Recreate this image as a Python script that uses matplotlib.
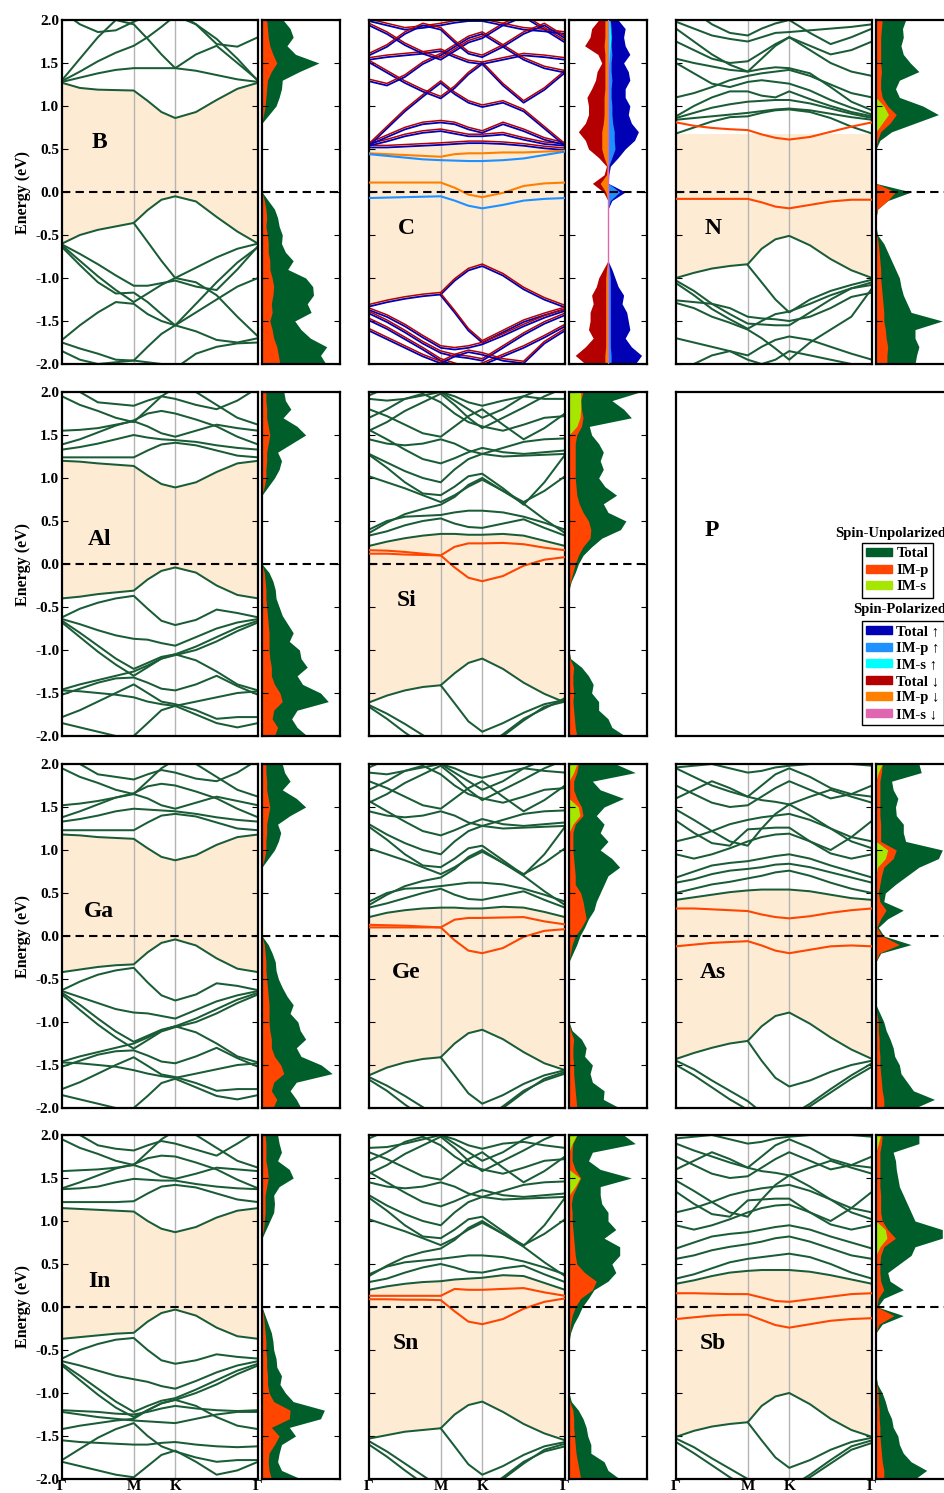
import numpy as np
import matplotlib
matplotlib.use("Agg")
import matplotlib.pyplot as plt
from matplotlib.patches import Patch

plt.rcParams['font.family'] = ['Liberation Serif', 'DejaVu Serif']
plt.rcParams['font.weight'] = 'bold'
plt.rcParams['axes.labelweight'] = 'bold'
plt.rcParams['axes.unicode_minus'] = False

nan = np.nan

# ---- k path (Γ - M - K - Γ) ------------------------------------------
k_path = [0.0, 0.144, 0.289, 0.433, 0.577, 0.689, 0.800, 0.911, 1.078, 1.244, 1.411, 1.577]
k_ticks = [0.0, 0.577, 0.911, 1.577]
k_labels = ['Γ', 'M', 'K', 'Γ']
e_dos = np.linspace(2.0, -2.0, 41)   # DOS energies, top -> bottom

# ---- band data (eV) ---------------------------------------------------
B_vb1 = [-0.60, -0.50, -0.44, -0.40, -0.36, -0.21, -0.09, -0.05, -0.11, -0.29, -0.46, -0.60]
B_cb1 = [1.27, 1.21, 1.19, 1.185, 1.18, 1.06, 0.93, 0.86, 0.93, 1.07, 1.20, 1.27]
B_more = [
    [nan, nan, nan, nan, -0.36, -0.58, -0.80, -1.00, -0.88, -0.76, -0.66, -0.60],
    [-0.61, -0.72, -0.84, -0.97, -1.09, -1.09, -1.06, -1.03, -1.10, -1.14, -0.90, -0.63],
    [-0.62, -0.80, -0.98, -1.14, -1.28, -1.18, -1.08, -1.00, -1.05, -1.20, -1.45, -1.68],
    [-0.64, -0.85, -1.05, -1.18, -1.17, -1.28, -1.42, -1.55, -1.30, -1.05, -0.82, -0.64],
    [-1.72, -1.55, -1.40, -1.28, -1.30, -1.42, -1.50, -1.55, -1.62, -1.72, -1.75, -1.70],
    [-1.75, -1.82, -1.88, -1.95, -1.96, -1.80, -1.65, -1.55, -1.40, -1.25, -1.10, -1.00],
    [-1.85, -1.95, -2.00, -1.98, -1.96, -1.98, -2.00, -2.05, -1.88, -1.80, -1.76, -1.75],
    [1.28, 1.33, 1.38, 1.42, 1.44, 1.44, 1.44, 1.44, 1.41, 1.36, 1.31, 1.28],
    [1.29, 1.40, 1.52, 1.62, 1.70, 1.80, 1.92, 2.05, 1.95, 1.78, 1.55, 1.29],
    [1.30, 1.55, 1.80, 2.00, 1.95, 1.78, 1.60, 1.44, 1.60, 1.70, 1.50, 1.30],
    [2.10, 1.95, 1.86, 1.88, 1.98, 2.05, 2.10, 2.10, 1.95, 1.72, 1.69, 1.80],
]

Al_vb1 = [-0.40, -0.38, -0.35, -0.33, -0.31, -0.18, -0.08, -0.04, -0.10, -0.25, -0.36, -0.40]
Al_cb1 = [1.20, 1.19, 1.17, 1.155, 1.14, 1.03, 0.93, 0.89, 0.95, 1.07, 1.17, 1.20]
Al_more = [
    [-0.62, -0.52, -0.45, -0.40, -0.37, -0.52, -0.66, -0.71, -0.65, -0.53, -0.57, -0.62],
    [-0.64, -0.70, -0.77, -0.83, -0.87, -0.88, -0.92, -0.95, -0.85, -0.75, -0.68, -0.64],
    [-0.66, -0.80, -0.95, -1.10, -1.22, -1.15, -1.08, -1.05, -0.96, -0.85, -0.74, -0.66],
    [-0.68, -0.85, -1.02, -1.17, -1.30, -1.20, -1.10, -1.06, -1.00, -0.90, -0.78, -0.68],
    [-1.46, -1.40, -1.35, -1.30, -1.25, -1.18, -1.10, -1.05, -1.12, -1.25, -1.40, -1.47],
    [-1.47, -1.48, -1.50, -1.52, -1.55, -1.60, -1.63, -1.65, -1.60, -1.55, -1.50, -1.48],
    [-1.52, -1.45, -1.38, -1.33, -1.32, -1.38, -1.45, -1.47, -1.40, -1.30, -1.42, -1.52],
    [-1.78, -1.70, -1.60, -1.50, -1.40, -1.50, -1.60, -1.63, -1.70, -1.80, -1.78, -1.78],
    [-1.85, -1.90, -1.95, -2.00, -2.00, -1.85, -1.70, -1.65, -1.75, -1.85, -1.90, -1.85],
    [1.24, 1.24, 1.24, 1.24, 1.24, 1.32, 1.39, 1.41, 1.38, 1.32, 1.26, 1.24],
    [1.33, 1.36, 1.40, 1.45, 1.50, 1.47, 1.45, 1.44, 1.42, 1.38, 1.35, 1.33],
    [1.39, 1.45, 1.53, 1.61, 1.67, 1.75, 1.78, 1.75, 1.68, 1.60, 1.48, 1.39],
    [1.55, 1.56, 1.58, 1.62, 1.66, 1.60, 1.52, 1.48, 1.55, 1.62, 1.58, 1.55],
    [2.10, 2.00, 1.88, 1.86, 1.84, 1.90, 1.95, 1.92, 1.85, 1.80, 1.90, 2.05],
    [1.95, 1.85, 1.78, 1.70, 1.65, 1.80, 1.95, 2.05, 2.00, 1.85, 1.70, 1.62],
]

Ga_vb1 = [-0.42, -0.39, -0.36, -0.34, -0.33, -0.19, -0.08, -0.04, -0.11, -0.26, -0.38, -0.42]
Ga_cb1 = [1.18, 1.17, 1.15, 1.14, 1.13, 1.02, 0.92, 0.88, 0.94, 1.06, 1.15, 1.18]
Ga_more = [
    [-0.63, -0.53, -0.45, -0.40, -0.37, -0.54, -0.69, -0.75, -0.68, -0.55, -0.58, -0.63],
    [-0.64, -0.71, -0.78, -0.85, -0.89, -0.90, -0.93, -0.96, -0.86, -0.76, -0.69, -0.64],
    [-0.66, -0.80, -0.96, -1.11, -1.23, -1.16, -1.09, -1.05, -0.96, -0.85, -0.74, -0.66],
    [-0.68, -0.86, -1.03, -1.18, -1.31, -1.21, -1.11, -1.06, -1.00, -0.90, -0.78, -0.68],
    [-1.46, -1.40, -1.35, -1.30, -1.25, -1.18, -1.10, -1.05, -1.12, -1.25, -1.40, -1.47],
    [-1.47, -1.48, -1.50, -1.52, -1.56, -1.60, -1.63, -1.65, -1.60, -1.55, -1.50, -1.48],
    [-1.52, -1.45, -1.38, -1.34, -1.33, -1.39, -1.46, -1.48, -1.40, -1.30, -1.42, -1.52],
    [-1.78, -1.70, -1.60, -1.50, -1.41, -1.51, -1.61, -1.64, -1.71, -1.80, -1.78, -1.78],
    [-1.85, -1.90, -1.95, -2.00, -2.00, -1.86, -1.71, -1.66, -1.76, -1.86, -1.90, -1.85],
    [1.23, 1.23, 1.23, 1.23, 1.23, 1.32, 1.40, 1.42, 1.39, 1.32, 1.25, 1.23],
    [1.33, 1.36, 1.40, 1.45, 1.48, 1.47, 1.46, 1.45, 1.42, 1.38, 1.35, 1.33],
    [1.38, 1.45, 1.53, 1.61, 1.66, 1.74, 1.77, 1.75, 1.68, 1.60, 1.48, 1.38],
    [1.52, 1.54, 1.57, 1.61, 1.65, 1.60, 1.52, 1.48, 1.55, 1.62, 1.57, 1.52],
    [2.10, 2.00, 1.88, 1.85, 1.82, 1.88, 1.93, 1.90, 1.83, 1.80, 1.90, 2.05],
    [1.95, 1.85, 1.78, 1.70, 1.65, 1.80, 1.95, 2.05, 2.00, 1.85, 1.70, 1.62],
]

In_vb1 = [-0.37, -0.35, -0.33, -0.31, -0.30, -0.17, -0.07, -0.03, -0.10, -0.24, -0.34, -0.37]
In_cb1 = [1.15, 1.14, 1.13, 1.12, 1.11, 1.00, 0.91, 0.87, 0.93, 1.04, 1.12, 1.15]
In_more = [
    [-0.60, -0.50, -0.43, -0.38, -0.36, -0.50, -0.62, -0.66, -0.62, -0.55, -0.58, -0.60],
    [-0.63, -0.68, -0.74, -0.80, -0.84, -0.87, -0.92, -0.95, -0.86, -0.76, -0.68, -0.63],
    [-0.66, -0.80, -0.95, -1.10, -1.22, -1.15, -1.09, -1.06, -0.96, -0.85, -0.74, -0.66],
    [-0.68, -0.85, -1.02, -1.17, -1.28, -1.20, -1.12, -1.08, -1.00, -0.90, -0.78, -0.68],
    [-1.20, -1.21, -1.22, -1.24, -1.25, -1.22, -1.18, -1.15, -1.18, -1.20, -1.21, -1.20],
    [-1.22, -1.25, -1.28, -1.30, -1.32, -1.33, -1.34, -1.35, -1.30, -1.25, -1.22, -1.22],
    [-1.42, -1.38, -1.35, -1.32, -1.30, -1.20, -1.12, -1.08, -1.15, -1.28, -1.38, -1.42],
    [-1.55, -1.57, -1.58, -1.59, -1.60, -1.60, -1.58, -1.57, -1.60, -1.62, -1.63, -1.62],
    [-1.78, -1.65, -1.52, -1.42, -1.35, -1.50, -1.62, -1.68, -1.75, -1.80, -1.78, -1.78],
    [-1.80, -1.85, -1.90, -1.95, -1.98, -1.85, -1.72, -1.67, -1.80, -1.95, -1.90, -1.80],
    [1.22, 1.22, 1.22, 1.22, 1.23, 1.32, 1.40, 1.42, 1.39, 1.32, 1.25, 1.22],
    [1.37, 1.38, 1.40, 1.45, 1.49, 1.48, 1.47, 1.47, 1.43, 1.40, 1.38, 1.37],
    [1.38, 1.45, 1.53, 1.61, 1.66, 1.73, 1.76, 1.75, 1.68, 1.60, 1.48, 1.38],
    [1.58, 1.59, 1.60, 1.62, 1.65, 1.60, 1.52, 1.49, 1.55, 1.62, 1.60, 1.58],
    [2.10, 2.00, 1.88, 1.84, 1.82, 1.88, 1.93, 1.90, 1.83, 1.76, 1.90, 2.05],
    [1.95, 1.85, 1.78, 1.70, 1.65, 1.80, 1.95, 2.05, 2.00, 1.85, 1.70, 1.62],
]

C_vb1 = [-1.32, -1.27, -1.23, -1.20, -1.18, -1.02, -0.90, -0.85, -0.96, -1.12, -1.24, -1.33]
C_cb1 = [0.53, 0.53, 0.54, 0.55, 0.56, 0.57, 0.58, 0.58, 0.57, 0.55, 0.52, 0.50]
C_more = [
    [nan, nan, nan, nan, -1.19, -1.39, -1.60, -1.74, -1.62, -1.50, -1.42, -1.35],
    [-1.36, -1.44, -1.55, -1.68, -1.80, -1.82, -1.80, -1.76, -1.66, -1.55, -1.45, -1.37],
    [-1.40, -1.50, -1.62, -1.75, -1.86, -1.90, -1.92, -1.95, -1.80, -1.65, -1.52, -1.42],
    [-1.48, -1.58, -1.70, -1.82, -1.95, -2.00, -2.05, -2.00, -1.90, -1.80, -1.68, -1.55],
    [-1.60, -1.70, -1.80, -1.90, -1.98, -1.90, -1.85, -1.88, -1.95, -1.98, -1.75, -1.60],
    [0.55, 0.60, 0.66, 0.70, 0.72, 0.69, 0.66, 0.66, 0.68, 0.62, 0.57, 0.55],
    [0.56, 0.65, 0.74, 0.80, 0.82, 0.80, 0.74, 0.70, 0.80, 0.72, 0.62, 0.56],
    [0.55, 0.75, 0.95, 1.12, 1.28, 1.15, 1.05, 1.00, 1.05, 0.95, 0.75, 0.55],
    [1.52, 1.40, 1.28, 1.18, 1.10, 1.22, 1.38, 1.50, 1.25, 1.05, 1.20, 1.40],
    [1.55, 1.58, 1.60, 1.62, 1.65, 1.58, 1.52, 1.50, 1.55, 1.60, 1.58, 1.55],
    [1.30, 1.25, 1.35, 1.50, 1.60, 1.70, 1.80, 1.85, 1.70, 1.55, 1.45, 1.40],
    [1.95, 1.85, 1.72, 1.62, 1.55, 1.65, 1.75, 1.80, 1.95, 2.05, 1.90, 1.75],
    [2.00, 1.95, 1.90, 1.92, 1.95, 1.98, 2.00, 2.00, 1.95, 1.90, 1.88, 1.85],
    [1.60, 1.70, 1.85, 1.95, 1.90, 1.75, 1.62, 1.58, 1.70, 1.85, 1.95, 1.80],
]
C_imp_dn = [
    [0.45, 0.44, 0.43, 0.42, 0.41, 0.44, 0.45, 0.45, 0.46, 0.46, 0.47, 0.48],
    [0.11, 0.11, 0.11, 0.11, 0.11, 0.05, -0.03, -0.06, -0.01, 0.07, 0.10, 0.11],
]
C_imp_up = [
    [0.44, 0.42, 0.40, 0.38, 0.37, 0.365, 0.36, 0.36, 0.37, 0.39, 0.43, 0.47],
    [-0.07, -0.065, -0.06, -0.055, -0.05, -0.10, -0.16, -0.19, -0.15, -0.10, -0.08, -0.07],
]

Si_vb1 = [-1.61, -1.53, -1.47, -1.43, -1.41, -1.27, -1.15, -1.10, -1.22, -1.38, -1.51, -1.61]
Si_cb1 = [0.21, 0.26, 0.30, 0.33, 0.35, 0.35, 0.34, 0.34, 0.35, 0.33, 0.27, 0.21]
Si_imp = [
    [0.16, 0.155, 0.14, 0.12, 0.10, 0.20, 0.24, 0.24, 0.245, 0.23, 0.19, 0.16],
    [0.12, 0.12, 0.11, 0.105, 0.10, -0.04, -0.16, -0.20, -0.14, -0.02, 0.05, 0.08],
]
Si_more = [
    [nan, nan, nan, nan, -1.41, -1.62, -1.83, -1.95, -1.85, -1.73, -1.63, -1.58],
    [-1.64, -1.74, -1.86, -1.99, -2.12, -2.20, -2.20, -2.20, -2.00, -1.82, -1.66, -1.60],
    [-1.66, -1.80, -1.96, -2.10, -2.20, -2.20, -2.20, -2.15, -1.98, -1.80, -1.68, -1.56],
    [0.33, 0.38, 0.45, 0.50, 0.53, 0.47, 0.43, 0.42, 0.47, 0.52, 0.42, 0.33],
    [0.40, 0.50, 0.55, 0.56, 0.57, 0.60, 0.62, 0.62, 0.60, 0.55, 0.48, 0.40],
    [0.36, 0.48, 0.58, 0.64, 0.69, 0.78, 0.92, 1.00, 0.85, 0.70, 0.52, 0.36],
    [1.02, 0.95, 0.88, 0.80, 0.72, 0.80, 0.90, 0.98, 0.85, 0.72, 0.85, 1.02],
    [1.27, 1.12, 0.95, 0.82, 0.80, 0.90, 1.02, 1.05, 0.88, 0.69, 0.95, 1.27],
    [1.28, 1.18, 1.08, 1.00, 0.95, 1.10, 1.22, 1.28, 1.25, 1.26, 1.27, 1.28],
    [1.56, 1.45, 1.33, 1.22, 1.17, 1.23, 1.30, 1.35, 1.30, 1.28, 1.30, 1.32],
    [1.45, 1.40, 1.38, 1.40, 1.45, 1.40, 1.32, 1.28, 1.35, 1.42, 1.45, 1.46],
    [1.55, 1.65, 1.78, 1.88, 1.98, 1.85, 1.70, 1.58, 1.70, 1.82, 1.95, 2.05],
    [1.80, 1.72, 1.62, 1.52, 1.48, 1.60, 1.72, 1.80, 1.62, 1.45, 1.58, 1.75],
    [1.70, 1.80, 1.92, 1.98, 1.88, 1.75, 1.65, 1.60, 1.55, 1.62, 1.70, 1.72],
    [1.92, 1.90, 1.92, 1.96, 2.00, 1.95, 1.88, 1.84, 1.90, 1.95, 1.92, 1.92],
    [1.96, 2.05, 2.10, 2.10, 2.00, 1.90, 1.80, 1.70, 1.80, 1.95, 2.05, 2.10],
]

Ge_vb1 = [-1.62, -1.53, -1.47, -1.43, -1.41, -1.25, -1.13, -1.09, -1.20, -1.35, -1.48, -1.56]
Ge_cb1 = [0.22, 0.27, 0.30, 0.32, 0.33, 0.33, 0.32, 0.32, 0.34, 0.33, 0.28, 0.22]
Ge_imp = [
    [0.13, 0.125, 0.12, 0.11, 0.10, 0.19, 0.21, 0.21, 0.215, 0.22, 0.17, 0.135],
    [0.10, 0.10, 0.10, 0.10, 0.10, -0.05, -0.17, -0.20, -0.14, -0.01, 0.06, 0.08],
]
Ge_more = [
    [nan, nan, nan, nan, -1.41, -1.62, -1.83, -1.95, -1.85, -1.72, -1.62, -1.56],
    [-1.64, -1.74, -1.86, -1.99, -2.12, -2.20, -2.20, -2.20, -2.00, -1.82, -1.66, -1.58],
    [-1.67, -1.80, -1.96, -2.10, -2.20, -2.20, -2.20, -2.15, -1.98, -1.80, -1.68, -1.60],
    [0.33, 0.38, 0.44, 0.50, 0.55, 0.48, 0.43, 0.42, 0.47, 0.52, 0.42, 0.33],
    [0.40, 0.50, 0.55, 0.56, 0.58, 0.60, 0.62, 0.62, 0.60, 0.55, 0.48, 0.40],
    [0.36, 0.48, 0.58, 0.64, 0.68, 0.78, 0.92, 1.00, 0.85, 0.70, 0.52, 0.36],
    [1.02, 0.95, 0.88, 0.80, 0.72, 0.80, 0.90, 0.98, 0.85, 0.72, 0.85, 1.02],
    [1.27, 1.12, 0.95, 0.82, 0.80, 0.90, 1.02, 1.05, 0.88, 0.71, 0.95, 1.27],
    [1.30, 1.18, 1.08, 1.00, 0.95, 1.10, 1.22, 1.28, 1.25, 1.26, 1.27, 1.28],
    [1.57, 1.45, 1.33, 1.22, 1.17, 1.23, 1.30, 1.36, 1.30, 1.28, 1.30, 1.32],
    [1.45, 1.40, 1.38, 1.40, 1.45, 1.40, 1.32, 1.28, 1.35, 1.42, 1.45, 1.46],
    [1.55, 1.65, 1.78, 1.88, 1.98, 1.85, 1.70, 1.58, 1.70, 1.82, 1.95, 2.05],
    [1.80, 1.72, 1.62, 1.52, 1.48, 1.60, 1.72, 1.80, 1.62, 1.45, 1.58, 1.75],
    [1.70, 1.80, 1.92, 1.98, 1.88, 1.75, 1.65, 1.60, 1.55, 1.62, 1.70, 1.72],
    [1.90, 1.88, 1.92, 1.96, 2.00, 1.95, 1.88, 1.84, 1.90, 1.95, 1.92, 1.90],
    [1.96, 2.05, 2.10, 2.10, 2.00, 1.90, 1.80, 1.70, 1.80, 1.95, 2.05, 2.10],
]

Sn_vb1 = [-1.53, -1.49, -1.45, -1.43, -1.41, -1.25, -1.14, -1.10, -1.22, -1.36, -1.47, -1.55]
Sn_cb1 = [0.20, 0.24, 0.27, 0.29, 0.30, 0.32, 0.33, 0.34, 0.37, 0.36, 0.28, 0.20]
Sn_imp = [
    [0.13, 0.13, 0.13, 0.13, 0.13, 0.21, 0.20, 0.20, 0.21, 0.22, 0.17, 0.13],
    [0.09, 0.09, 0.085, 0.085, 0.08, -0.05, -0.17, -0.20, -0.14, -0.02, 0.06, 0.10],
]
Sn_more = [
    [nan, nan, nan, nan, -1.41, -1.62, -1.83, -1.95, -1.85, -1.72, -1.62, -1.57],
    [-1.56, -1.68, -1.82, -1.96, -2.10, -2.20, -2.20, -2.20, -2.00, -1.82, -1.66, -1.59],
    [-1.60, -1.74, -1.90, -2.05, -2.20, -2.20, -2.20, -2.15, -1.98, -1.80, -1.68, -1.62],
    [0.29, 0.33, 0.40, 0.46, 0.50, 0.46, 0.41, 0.40, 0.45, 0.48, 0.38, 0.29],
    [0.38, 0.47, 0.52, 0.54, 0.56, 0.58, 0.60, 0.60, 0.58, 0.53, 0.46, 0.38],
    [0.36, 0.48, 0.58, 0.64, 0.68, 0.78, 0.92, 1.00, 0.85, 0.70, 0.52, 0.36],
    [1.02, 0.95, 0.88, 0.80, 0.72, 0.80, 0.90, 0.98, 0.85, 0.72, 0.85, 1.02],
    [1.27, 1.12, 0.95, 0.82, 0.80, 0.90, 1.02, 1.05, 0.88, 0.71, 0.95, 1.27],
    [1.30, 1.18, 1.08, 1.00, 0.95, 1.10, 1.22, 1.28, 1.25, 1.26, 1.27, 1.28],
    [1.57, 1.45, 1.33, 1.22, 1.17, 1.23, 1.30, 1.36, 1.30, 1.28, 1.30, 1.32],
    [1.45, 1.40, 1.38, 1.40, 1.45, 1.40, 1.32, 1.28, 1.35, 1.42, 1.45, 1.46],
    [1.55, 1.65, 1.78, 1.88, 1.98, 1.85, 1.70, 1.58, 1.70, 1.82, 1.95, 2.05],
    [1.80, 1.72, 1.62, 1.52, 1.48, 1.60, 1.72, 1.80, 1.62, 1.45, 1.58, 1.75],
    [1.70, 1.80, 1.92, 1.98, 1.88, 1.75, 1.65, 1.60, 1.55, 1.62, 1.70, 1.72],
    [1.85, 1.86, 1.90, 1.95, 2.00, 1.95, 1.88, 1.84, 1.90, 1.92, 1.88, 1.85],
    [1.96, 2.05, 2.10, 2.10, 2.00, 1.90, 1.80, 1.70, 1.80, 1.95, 2.05, 2.10],
]

N_vb1 = [-1.00, -0.94, -0.89, -0.86, -0.84, -0.66, -0.55, -0.51, -0.62, -0.78, -0.91, -1.00]
N_top = [0.68, 0.68, 0.68, 0.68, 0.68, 0.68, 0.68, 0.68, 0.68, 0.68, 0.68, 0.68]
N_imp = [
    [0.81, 0.77, 0.745, 0.73, 0.72, 0.67, 0.63, 0.61, 0.64, 0.70, 0.76, 0.81],
    [-0.08, -0.08, -0.08, -0.08, -0.08, -0.12, -0.17, -0.19, -0.15, -0.11, -0.09, -0.09],
]
N_more = [
    [nan, nan, nan, nan, -0.85, -1.05, -1.25, -1.40, -1.25, -1.15, -1.08, -1.02],
    [-1.03, -1.15, -1.30, -1.42, -1.53, -1.54, -1.55, -1.55, -1.40, -1.25, -1.12, -1.05],
    [-1.06, -1.20, -1.36, -1.48, -1.59, -1.50, -1.42, -1.39, -1.30, -1.20, -1.12, -1.08],
    [-1.26, -1.28, -1.30, -1.35, -1.45, -1.47, -1.48, -1.50, -1.45, -1.35, -1.22, -1.17],
    [-1.29, -1.35, -1.45, -1.52, -1.60, -1.70, -1.82, -1.95, -1.75, -1.60, -1.45, -1.12],
    [-1.70, -1.75, -1.80, -1.85, -1.90, -1.80, -1.72, -1.68, -1.72, -1.80, -1.88, -1.95],
    [-2.10, -2.00, -1.90, -1.85, -1.95, -2.00, -1.95, -1.85, -1.90, -1.95, -2.00, -2.05],
    [0.68, 0.75, 0.82, 0.87, 0.88, 0.92, 0.95, 0.96, 0.93, 0.86, 0.76, 0.68],
    [0.84, 0.86, 0.88, 0.90, 0.92, 0.94, 0.96, 0.97, 0.95, 0.91, 0.87, 0.84],
    [0.86, 0.92, 0.98, 1.02, 1.05, 1.06, 1.07, 1.07, 1.03, 0.97, 0.91, 0.86],
    [0.88, 1.00, 1.10, 1.17, 1.17, 1.12, 1.10, 1.17, 1.08, 1.00, 0.93, 0.88],
    [1.10, 1.15, 1.22, 1.30, 1.35, 1.38, 1.40, 1.42, 1.35, 1.25, 1.15, 1.10],
    [1.50, 1.38, 1.26, 1.22, 1.28, 1.30, 1.28, 1.26, 1.18, 1.07, 0.98, 0.90],
    [1.55, 1.50, 1.46, 1.42, 1.40, 1.43, 1.45, 1.44, 1.38, 1.22, 1.05, 0.95],
    [1.90, 1.75, 1.60, 1.48, 1.40, 1.55, 1.70, 1.80, 1.65, 1.50, 1.40, 1.35],
    [1.75, 1.65, 1.55, 1.50, 1.52, 1.62, 1.72, 1.80, 1.70, 1.60, 1.65, 1.75],
    [1.98, 1.90, 1.82, 1.78, 1.75, 1.80, 1.85, 1.86, 1.88, 1.90, 1.92, 1.95],
    [2.20, 2.10, 1.95, 1.85, 1.82, 1.90, 1.96, 2.00, 1.85, 1.72, 1.80, 1.90],
]

As_vb1 = [-1.43, -1.36, -1.30, -1.25, -1.22, -1.05, -0.93, -0.89, -1.02, -1.18, -1.32, -1.43]
As_cb1 = [0.42, 0.45, 0.48, 0.51, 0.53, 0.54, 0.54, 0.54, 0.52, 0.48, 0.44, 0.42]
As_imp = [
    [0.32, 0.32, 0.31, 0.30, 0.29, 0.25, 0.22, 0.205, 0.23, 0.27, 0.30, 0.32],
    [-0.12, -0.10, -0.08, -0.07, -0.06, -0.11, -0.17, -0.20, -0.16, -0.12, -0.11, -0.12],
]
As_more = [
    [nan, nan, nan, nan, -1.22, -1.45, -1.65, -1.75, -1.68, -1.58, -1.50, -1.45],
    [-1.45, -1.55, -1.68, -1.80, -1.92, -2.05, -2.10, -2.10, -1.95, -1.78, -1.62, -1.48],
    [-1.50, -1.62, -1.76, -1.90, -2.02, -2.10, -2.10, -2.10, -1.98, -1.82, -1.66, -1.52],
    [0.50, 0.55, 0.60, 0.63, 0.67, 0.70, 0.74, 0.76, 0.70, 0.62, 0.55, 0.50],
    [0.62, 0.66, 0.72, 0.76, 0.78, 0.80, 0.83, 0.84, 0.80, 0.74, 0.68, 0.62],
    [0.68, 0.75, 0.82, 0.85, 0.87, 0.90, 0.93, 0.95, 0.90, 0.82, 0.75, 0.68],
    [0.95, 0.90, 0.95, 1.02, 1.10, 1.15, 1.18, 1.19, 1.10, 0.96, 0.90, 0.95],
    [1.10, 1.15, 1.22, 1.30, 1.35, 1.38, 1.40, 1.42, 1.35, 1.25, 1.15, 1.10],
    [1.34, 1.20, 1.08, 1.05, 1.24, 1.25, 1.26, 1.26, 1.10, 1.00, 1.15, 1.34],
    [1.47, 1.35, 1.22, 1.10, 1.05, 1.25, 1.42, 1.53, 1.40, 1.25, 1.10, 1.02],
    [1.60, 1.70, 1.80, 1.72, 1.62, 1.58, 1.56, 1.53, 1.62, 1.70, 1.62, 1.55],
    [1.75, 1.65, 1.55, 1.50, 1.52, 1.62, 1.72, 1.80, 1.70, 1.60, 1.65, 1.75],
    [1.95, 1.85, 1.75, 1.68, 1.62, 1.75, 1.88, 1.95, 1.85, 1.72, 1.65, 1.62],
    [1.96, 1.98, 2.00, 1.95, 1.90, 1.92, 1.96, 1.98, 2.00, 2.02, 2.00, 1.98],
]

Sb_vb1 = [-1.51, -1.44, -1.39, -1.36, -1.34, -1.15, -1.04, -1.00, -1.13, -1.30, -1.43, -1.51]
Sb_cb1 = [0.27, 0.31, 0.36, 0.40, 0.42, 0.43, 0.43, 0.43, 0.41, 0.37, 0.32, 0.27]
Sb_imp = [
    [0.16, 0.16, 0.155, 0.15, 0.15, 0.11, 0.07, 0.06, 0.09, 0.12, 0.15, 0.16],
    [-0.14, -0.12, -0.10, -0.09, -0.09, -0.15, -0.21, -0.24, -0.20, -0.16, -0.14, -0.13],
]
Sb_more = [
    [nan, nan, nan, nan, -1.34, -1.55, -1.75, -1.87, -1.78, -1.66, -1.57, -1.52],
    [-1.53, -1.63, -1.76, -1.88, -2.00, -2.10, -2.10, -2.10, -1.95, -1.78, -1.62, -1.55],
    [-1.57, -1.70, -1.84, -1.98, -2.10, -2.10, -2.10, -2.10, -1.98, -1.82, -1.66, -1.58],
    [0.33, 0.38, 0.45, 0.52, 0.56, 0.58, 0.60, 0.62, 0.58, 0.50, 0.40, 0.33],
    [0.56, 0.60, 0.66, 0.70, 0.73, 0.76, 0.80, 0.82, 0.76, 0.68, 0.60, 0.56],
    [0.68, 0.75, 0.82, 0.85, 0.87, 0.90, 0.93, 0.95, 0.90, 0.82, 0.75, 0.68],
    [0.95, 0.90, 0.95, 1.02, 1.10, 1.15, 1.18, 1.19, 1.10, 0.96, 0.90, 0.95],
    [1.10, 1.15, 1.22, 1.30, 1.35, 1.38, 1.40, 1.42, 1.35, 1.25, 1.15, 1.10],
    [1.34, 1.20, 1.08, 1.05, 1.24, 1.25, 1.26, 1.26, 1.10, 1.00, 1.15, 1.34],
    [1.47, 1.35, 1.22, 1.10, 1.05, 1.25, 1.42, 1.53, 1.40, 1.25, 1.10, 1.02],
    [1.60, 1.70, 1.80, 1.72, 1.62, 1.58, 1.56, 1.53, 1.62, 1.70, 1.62, 1.55],
    [1.75, 1.65, 1.55, 1.50, 1.52, 1.62, 1.72, 1.80, 1.70, 1.60, 1.65, 1.75],
    [1.90, 1.82, 1.75, 1.68, 1.62, 1.75, 1.88, 1.95, 1.85, 1.72, 1.65, 1.62],
    [1.96, 1.98, 2.00, 1.95, 1.90, 1.92, 1.96, 1.98, 2.00, 2.02, 2.00, 1.98],
]

# ---- DOS data (arb. units, 2.0 eV -> -2.0 eV, step 0.1) ---------------
B_tot = [2.7, 3.6, 4.0, 3.2, 4.3, 7.3, 4.8, 2.6, 2.5, 2.2, 1.8, 0.9, 0.0, 0, 0, 0, 0, 0, 0, 0,
         0.0, 0.8, 1.6, 2.0, 2.2, 2.6, 2.5, 3.0, 4.0, 3.3, 5.6, 6.5, 6.6, 5.8, 6.3, 4.2, 5.0, 6.2, 8.3, 7.5, 8.2]
B_p = [0.6, 0.7, 0.8, 1.0, 1.4, 1.9, 1.2, 0.7, 0.6, 0.5, 0.4, 0.2, 0.0, 0, 0, 0, 0, 0, 0, 0,
       0.0, 0.3, 0.5, 0.6, 0.5, 0.7, 0.8, 0.8, 1.0, 1.0, 1.3, 1.5, 1.4, 1.2, 1.3, 1.0, 1.3, 1.5, 1.9, 2.1, 2.3]
Al_tot = [2.8, 3.0, 3.7, 2.7, 4.5, 5.6, 3.8, 2.0, 2.5, 2.2, 1.6, 0.8, 0.0, 0, 0, 0, 0, 0, 0, 0,
          0.0, 0.9, 1.4, 1.7, 1.8, 2.2, 2.6, 3.3, 4.0, 3.5, 4.8, 5.0, 5.8, 4.5, 5.2, 7.5, 8.5, 4.5, 3.8, 4.5, 5.8]
Al_p = [0.5, 0.5, 0.6, 0.6, 0.8, 1.0, 0.8, 0.6, 0.6, 0.5, 0.5, 0.3, 0.0, 0, 0, 0, 0, 0, 0, 0,
        0.0, 0.3, 0.4, 0.5, 0.5, 0.6, 0.7, 0.8, 0.9, 0.9, 0.9, 1.0, 1.2, 1.2, 1.6, 2.3, 2.6, 1.5, 1.3, 2.0, 1.6]
Ga_tot = [2.6, 2.9, 3.6, 2.6, 4.4, 5.6, 3.6, 2.0, 2.4, 2.1, 1.6, 0.8, 0.0, 0, 0, 0, 0, 0, 0, 0,
          0.0, 0.8, 1.3, 1.7, 1.8, 2.1, 2.6, 3.2, 4.0, 3.6, 4.6, 4.9, 5.6, 4.4, 5.0, 7.6, 9.0, 4.4, 3.6, 4.4, 5.0]
Ga_p = [0.5, 0.5, 0.6, 0.6, 0.8, 1.0, 0.8, 0.6, 0.6, 0.5, 0.5, 0.3, 0.0, 0, 0, 0, 0, 0, 0, 0,
        0.0, 0.3, 0.4, 0.5, 0.5, 0.6, 0.7, 0.8, 0.9, 0.9, 0.9, 1.0, 1.2, 1.2, 1.6, 2.4, 2.8, 1.5, 1.2, 1.9, 1.4]
In_tot = [2.0, 2.2, 2.5, 2.0, 3.5, 4.0, 2.2, 1.5, 1.6, 1.5, 1.0, 0.5, 0.0, 0, 0, 0, 0, 0, 0, 0,
          0.0, 0.4, 0.8, 1.2, 1.4, 1.5, 1.8, 1.9, 2.5, 2.3, 3.0, 4.0, 8.0, 7.5, 3.5, 4.3, 2.5, 2.2, 2.0, 2.5, 5.0]
In_p = [0.4, 0.5, 0.5, 0.5, 0.7, 0.8, 0.6, 0.4, 0.4, 0.4, 0.3, 0.2, 0.0, 0, 0, 0, 0, 0, 0, 0,
        0.0, 0.2, 0.3, 0.4, 0.5, 0.5, 0.6, 0.6, 0.7, 0.7, 0.9, 1.5, 3.6, 3.5, 1.2, 2.2, 1.6, 0.9, 0.8, 0.9, 1.2]
Si_tot = [9.1, 5.5, 7.0, 8.0, 2.6, 2.9, 3.8, 4.4, 4.0, 4.4, 3.8, 4.6, 6.1, 4.4, 5.0, 7.3, 6.6, 4.2, 2.9, 1.8,
          1.2, 0.8, 0.3, 0, 0, 0, 0, 0, 0, 0, 0, 0.2, 1.6, 2.5, 3.1, 2.9, 3.8, 3.8, 5.0, 5.5, 7.2]
Si_p = [1.8, 1.5, 1.6, 1.8, 1.6, 1.0, 0.8, 0.8, 0.8, 0.8, 0.8, 0.9, 1.0, 1.3, 1.8, 2.5, 2.8, 2.7, 1.8, 1.2,
        0.8, 0.5, 0.2, 0, 0, 0, 0, 0, 0, 0, 0, 0.1, 0.6, 0.5, 0.5, 0.6, 0.5, 0.6, 0.7, 0.8, 1.0]
Si_s = [1.5, 1.5, 1.5, 1.4, 1.0, 0, 0, 0, 0, 0, 0, 0, 0, 0, 0, 0, 0, 0, 0, 0,
        0, 0, 0, 0, 0, 0, 0, 0, 0, 0, 0, 0, 0, 0, 0, 0, 0, 0, 0, 0, 0]
Ge_tot = [6.0, 8.5, 3.0, 4.0, 7.0, 4.5, 3.5, 4.5, 4.0, 5.0, 4.0, 5.5, 6.5, 5.0, 4.5, 4.0, 3.5, 3.2, 2.5, 2.0,
          1.4, 1.0, 0.5, 0, 0, 0, 0, 0, 0, 0, 0, 0.4, 1.6, 2.2, 2.0, 3.0, 2.7, 3.0, 4.5, 4.4, 6.5]
Ge_p = [1.2, 1.0, 0.6, 0.6, 1.0, 1.6, 1.8, 0.8, 0.5, 0.5, 0.5, 0.6, 0.7, 0.8, 0.8, 1.5, 1.8, 2.0, 2.2, 1.6,
        0.8, 0.4, 0.2, 0, 0, 0, 0, 0, 0, 0, 0, 0.2, 0.6, 0.5, 0.5, 0.6, 0.6, 0.7, 0.8, 0.9, 1.0]
Ge_s = [1.0, 0.6, 0, 0, 0, 1.2, 1.4, 0.5, 0, 0, 0, 0, 0, 0, 0, 0, 0, 0, 0, 0,
        0, 0, 0, 0, 0, 0, 0, 0, 0, 0, 0, 0, 0, 0, 0, 0, 0, 0, 0, 0, 0]
Sn_tot = [7.0, 8.5, 3.0, 2.5, 4.0, 8.0, 4.0, 4.0, 4.2, 5.0, 5.0, 6.0, 4.5, 6.5, 6.5, 5.5, 6.0, 5.0, 3.2, 2.5,
          1.7, 1.2, 0.6, 0.2, 0, 0, 0, 0, 0, 0, 0, 0.3, 1.2, 1.8, 2.2, 2.4, 2.8, 2.8, 4.5, 5.0, 6.5]
Sn_p = [1.0, 0.5, 0.4, 0.4, 0.8, 1.5, 1.0, 0.5, 0.3, 0.4, 0.4, 0.5, 0.6, 0.7, 0.8, 1.0, 2.0, 3.5, 3.0, 1.5,
        0.8, 0.4, 0.2, 0.1, 0, 0, 0, 0, 0, 0, 0, 0.1, 0.5, 0.6, 0.6, 0.7, 0.8, 0.9, 1.1, 1.3, 1.5]
Sn_s = [1.0, 0.4, 0, 0, 0, 1.4, 0.8, 0, 0, 0, 0, 0, 0, 0, 0, 0, 0, 0, 0, 0,
        0, 0, 0, 0, 0, 0, 0, 0, 0, 0, 0, 0, 0, 0, 0, 0, 0, 0, 0, 0, 0]
N_tot = [3.8, 3.4, 3.5, 3.2, 3.5, 4.4, 5.5, 3.0, 2.5, 3.0, 6.0, 8.0, 5.0, 2.0, 0.5, 0, 0, 0, 0, 0,
         4.5, 1.5, 0.2, 0, 0, 0.2, 1.0, 1.5, 2.0, 2.5, 3.0, 3.2, 3.5, 4.0, 4.5, 8.5, 5.0, 5.0, 5.5, 5.2, 5.0]
N_p = [0.8, 0.7, 0.6, 0.6, 0.6, 0.6, 0.7, 0.6, 0.6, 0.8, 1.5, 2.6, 1.8, 0.6, 0.2, 0, 0, 0, 0, 0,
       2.5, 1.5, 0.2, 0, 0, 0.1, 0.3, 0.4, 0.5, 0.6, 0.6, 0.7, 0.8, 0.9, 1.0, 1.0, 1.2, 1.3, 1.5, 1.4, 1.4]
N_s = [0, 0, 0, 0, 0, 0, 0, 0, 0, 0, 1.0, 1.6, 0.8, 0, 0, 0, 0, 0, 0, 0,
       0, 0, 0, 0, 0, 0, 0, 0, 0, 0, 0, 0, 0, 0, 0, 0, 0, 0, 0, 0, 0]
As_tot = [5.5, 5.8, 2.0, 2.2, 2.8, 2.5, 2.6, 3.5, 3.5, 3.8, 8.5, 8.0, 5.5, 4.0, 2.5, 1.2, 1.0, 3.5, 1.5, 0.3,
          1.0, 4.5, 0.6, 0, 0, 0, 0, 0, 0, 0.5, 1.0, 1.3, 1.8, 2.2, 2.4, 3.0, 3.2, 4.0, 4.8, 7.5, 5.0]
As_p = [0.8, 0.7, 0.5, 0.5, 0.5, 0.5, 0.5, 0.6, 0.6, 0.6, 2.6, 2.2, 1.0, 0.7, 0.5, 0.3, 0.5, 1.3, 0.6, 0.1,
        0.8, 3.0, 0.4, 0, 0, 0, 0, 0, 0, 0.1, 0.3, 0.3, 0.4, 0.4, 0.5, 0.5, 0.6, 0.7, 0.8, 1.0, 1.0]
As_s = [0.8, 0.3, 0, 0, 0, 0, 0, 0, 0, 0, 1.5, 1.2, 0.2, 0, 0, 0, 0, 0, 0, 0,
        0, 0, 0, 0, 0, 0, 0, 0, 0, 0, 0, 0, 0, 0, 0, 0, 0, 0, 0, 0, 0]
Sb_tot = [5.5, 5.5, 2.2, 2.5, 2.6, 2.8, 3.0, 3.5, 4.0, 4.5, 5.0, 8.5, 8.5, 5.0, 4.5, 3.0, 1.5, 1.8, 3.5, 1.0,
          0.2, 3.5, 0.8, 0, 0, 0, 0, 0, 0, 0.2, 0.8, 1.2, 1.5, 2.0, 2.2, 2.8, 3.0, 3.5, 4.5, 6.5, 5.0]
Sb_p = [0.8, 0.7, 0.5, 0.5, 0.5, 0.5, 0.5, 0.6, 0.6, 0.6, 0.8, 1.5, 2.5, 1.0, 0.6, 0.5, 0.5, 0.6, 1.0, 0.3,
        0.1, 2.3, 0.4, 0, 0, 0, 0, 0, 0, 0.1, 0.3, 0.3, 0.4, 0.4, 0.5, 0.5, 0.6, 0.7, 0.8, 1.0, 1.0]
Sb_s = [0.6, 0.3, 0, 0, 0, 0, 0, 0, 0, 0, 0, 1.2, 1.4, 0.5, 0, 0, 0, 0, 0, 0,
        0, 0, 0, 0, 0, 0, 0, 0, 0, 0, 0, 0, 0, 0, 0, 0, 0, 0, 0, 0, 0]
# spin polarized (C): down plotted to the left, up to the right
C_dn_tot = [1.2, 2.1, 2.3, 3.0, 1.3, 0.8, 1.4, 1.6, 2.1, 2.7, 2.5, 2.5, 2.9, 3.8, 2.9, 2.5, 1.2, 0.2, 0.5, 2.0,
            0.6, 0, 0, 0, 0, 0, 0, 0, 0, 0.6, 1.2, 1.5, 2.1, 1.9, 2.3, 2.3, 2.5, 1.9, 2.9, 4.2, 2.9]
C_up_tot = [1.3, 2.2, 2.0, 2.2, 2.8, 2.0, 2.6, 2.8, 2.2, 2.2, 2.8, 2.6, 3.0, 3.9, 3.4, 2.2, 1.3, 0.3, 0.1, 0.05,
            2.2, 0.5, 0, 0, 0, 0, 0, 0, 0, 0.5, 0.9, 1.3, 2.0, 1.8, 2.4, 2.6, 2.8, 2.2, 3.0, 4.3, 3.5]
C_dn_p = [0.4, 0.4, 0.4, 0.5, 0.4, 0.4, 0.4, 0.4, 0.4, 0.5, 0.5, 0.5, 0.6, 0.8, 0.8, 0.8, 0.5, 0.1, 0.2, 1.0,
          0.3, 0, 0, 0, 0, 0, 0, 0, 0, 0.2, 0.3, 0.3, 0.3, 0.3, 0.3, 0.3, 0.3, 0.3, 0.3, 0.4, 0.4]
C_up_p = [0.3, 0.4, 0.4, 0.4, 0.5, 0.4, 0.4, 0.5, 0.4, 0.4, 0.5, 0.5, 0.6, 0.8, 0.8, 0.9, 0.5, 0.1, 0.05, 0.05,
          1.5, 0.3, 0, 0, 0, 0, 0, 0, 0, 0.2, 0.3, 0.3, 0.3, 0.3, 0.3, 0.3, 0.3, 0.3, 0.3, 0.4, 0.4]
C_up_s = [0.2, 0.3, 0.4, 0.3, 0.2, 0.1, 0, 0, 0, 0, 0, 0, 0, 0, 0, 0, 0, 0, 0, 0,
          0, 0, 0, 0, 0, 0, 0, 0, 0, 0, 0, 0, 0, 0, 0, 0, 0, 0, 0, 0, 0]

# ---- colours ----------------------------------------------------------
BAND = '#1a5c36'
TOT = '#005e2b'
IMP = '#ff4500'
IMS = '#a6e600'
SHADE = '#fdebd4'
UP_T, UP_P, UP_S = '#0000b4', '#1e90ff', '#00ffff'
DN_T, DN_P, DN_S = '#b40000', '#ff7f00', '#e066b0'

W, H = 945, 1493
row_top = [20, 392, 764, 1135]
band_x = [62, 369, 676]
dos_x = [262, 569, 876]
PH, BW, DW = 344, 196, 78
FT = 11


def rect(x, y, w, h):
    return [x / W, 1 - (y + h) / H, w / W, h / H]


def style_axes(ax):
    for s in ax.spines.values():
        s.set_linewidth(1.6)
    ax.set_ylim(-2, 2)
    ax.set_yticks(np.arange(-2, 2.01, 0.5))
    ax.tick_params(axis='y', direction='in', length=4, width=0.8, left=True, right=True, pad=2)
    ax.tick_params(axis='x', length=0, pad=1)


# name, row, col, vb1, shade top, green lines, impurity lines, dos (tot, p, s), label y
panels = [
    ('B', 0, 0, B_vb1, B_cb1, [B_vb1, B_cb1] + B_more, [], (B_tot, B_p, None), 0.58),
    ('Al', 1, 0, Al_vb1, Al_cb1, [Al_vb1, Al_cb1] + Al_more, [], (Al_tot, Al_p, None), 0.29),
    ('Ga', 2, 0, Ga_vb1, Ga_cb1, [Ga_vb1, Ga_cb1] + Ga_more, [], (Ga_tot, Ga_p, None), 0.29),
    ('In', 3, 0, In_vb1, In_cb1, [In_vb1, In_cb1] + In_more, [], (In_tot, In_p, None), 0.30),
    ('Si', 1, 1, Si_vb1, Si_cb1, [Si_vb1, Si_cb1] + Si_more, Si_imp, (Si_tot, Si_p, Si_s), -0.42),
    ('Ge', 2, 1, Ge_vb1, Ge_cb1, [Ge_vb1, Ge_cb1] + Ge_more, Ge_imp, (Ge_tot, Ge_p, Ge_s), -0.42),
    ('Sn', 3, 1, Sn_vb1, Sn_cb1, [Sn_vb1, Sn_cb1] + Sn_more, Sn_imp, (Sn_tot, Sn_p, Sn_s), -0.42),
    ('N', 0, 2, N_vb1, N_top, [N_vb1] + N_more, N_imp, (N_tot, N_p, N_s), -0.42),
    ('As', 2, 2, As_vb1, As_cb1, [As_vb1, As_cb1] + As_more, As_imp, (As_tot, As_p, As_s), -0.42),
    ('Sb', 3, 2, Sb_vb1, Sb_cb1, [Sb_vb1, Sb_cb1] + Sb_more, Sb_imp, (Sb_tot, Sb_p, Sb_s), -0.42),
]

fig = plt.figure(figsize=(W / 100, H / 100), dpi=100)


def band_axes(row, col):
    ax = fig.add_axes(rect(band_x[col], row_top[row], BW, PH))
    style_axes(ax)
    ax.set_xlim(0, k_path[-1])
    ax.set_xticks(k_ticks)
    if row == 3:
        ax.set_xticklabels(k_labels, fontsize=FT, fontweight='bold')
    else:
        ax.set_xticklabels([])
    if col == 0:
        ax.set_ylabel('Energy (eV)', fontsize=11.5, fontweight='bold', labelpad=3)
        ax.set_yticklabels(['%.1f' % v for v in np.arange(-2, 2.01, 0.5)], fontsize=FT, fontweight='bold')
    else:
        ax.set_yticklabels([])
    for kv in k_ticks[1:3]:
        ax.axvline(kv, color='#b4b4b4', lw=1.0, zorder=1)
    ax.axhline(0, color='k', ls=(0, (4, 2.5)), lw=1.5, zorder=4)
    return ax


def dos_axes(row, col):
    ax = fig.add_axes(rect(dos_x[col], row_top[row], DW, PH))
    style_axes(ax)
    ax.set_yticklabels([])
    ax.set_xticks([])
    ax.axhline(0, color='k', ls=(0, (4, 2.5)), lw=1.5, zorder=4)
    return ax


for name, row, col, lo, hi, lines, imp, dos, ly in panels:
    ax = band_axes(row, col)
    ax.fill_between(k_path, lo, hi, color=SHADE, lw=0, zorder=0)
    for b in lines:
        ax.plot(k_path, b, color=BAND, lw=1.45, zorder=2, solid_joinstyle='round')
    for b in imp:
        ax.plot(k_path, b, color=IMP, lw=1.5, zorder=3, solid_joinstyle='round')
    ax.text(0.30, ly, name, fontsize=17, fontweight='bold', ha='center', va='center', zorder=5)

    dx = dos_axes(row, col)
    tot, p, s = dos
    dx.set_xlim(0, 10)
    dx.fill_betweenx(e_dos, 0, tot, color=TOT, lw=0)
    dx.fill_betweenx(e_dos, 0, p, color=IMP, lw=0)
    if s is not None:
        dx.fill_betweenx(e_dos, 0, s, color=IMS, lw=0)

# ---- C : spin polarized ------------------------------------------------
ax = band_axes(0, 1)
ax.fill_between(k_path, C_vb1, C_cb1, color=SHADE, lw=0, zorder=0)
for b in [C_vb1, C_cb1] + C_more:
    ax.plot(k_path, np.array(b) - 0.012, color=UP_T, lw=1.3, zorder=2)
    ax.plot(k_path, np.array(b) + 0.012, color=DN_T, lw=1.1, zorder=2)
for b in C_imp_dn:
    ax.plot(k_path, b, color=DN_P, lw=1.5, zorder=3)
for b in C_imp_up:
    ax.plot(k_path, b, color=UP_P, lw=1.5, zorder=3)
ax.text(0.30, -0.42, 'C', fontsize=17, fontweight='bold', ha='center', va='center', zorder=5)

dx = dos_axes(0, 1)
dx.set_xlim(-5, 5)
dx.fill_betweenx(e_dos, 0, -np.array(C_dn_tot), color=DN_T, lw=0)
dx.fill_betweenx(e_dos, 0, C_up_tot, color=UP_T, lw=0)
dx.fill_betweenx(e_dos, 0, -np.array(C_dn_p), color=DN_P, lw=0)
dx.fill_betweenx(e_dos, 0, C_up_p, color=UP_P, lw=0)
dx.fill_betweenx(e_dos, 0, C_up_s, color=UP_S, lw=0)
dx.axvline(0, color=DN_S, lw=1.0, zorder=3)

# ---- P : legend panel --------------------------------------------------
axp = fig.add_axes(rect(676, row_top[1], 954 - 676, PH))
for s in axp.spines.values():
    s.set_linewidth(1.6)
axp.set_xticks([])
axp.set_yticks([])
fig.text(712 / W, 1 - 530 / H, 'P', fontsize=17, fontweight='bold', ha='center', va='center')

leg_kw = dict(loc='upper left', frameon=True, fancybox=False, edgecolor='k', framealpha=1,
              borderaxespad=0, prop={'weight': 'bold', 'size': 10.5}, handlelength=1.75,
              handleheight=0.45, labelspacing=0.24, borderpad=0.3, handletextpad=0.3)
h1 = [Patch(color=TOT, label='Total'), Patch(color=IMP, label='IM-p'), Patch(color=IMS, label='IM-s')]
h2 = [Patch(color=UP_T, label='Total ↑'), Patch(color=UP_P, label='IM-p ↑'), Patch(color=UP_S, label='IM-s ↑'),
      Patch(color=DN_T, label='Total ↓'), Patch(color=DN_P, label='IM-p ↓'), Patch(color=DN_S, label='IM-s ↓')]
l1 = fig.legend(handles=h1, bbox_to_anchor=(862 / W, 1 - 543 / H), **leg_kw)
l2 = fig.legend(handles=h2, bbox_to_anchor=(862 / W, 1 - 621 / H), **leg_kw)
for lg in (l1, l2):
    lg.get_frame().set_linewidth(1.0)
fig.text(835 / W, 1 - 533 / H, 'Spin-Unpolarized', fontsize=10.5, fontweight='bold', va='center')
fig.text(853 / W, 1 - 610 / H, 'Spin-Polarized', fontsize=10.5, fontweight='bold', va='center')

fig.savefig('out.png', dpi=100)
